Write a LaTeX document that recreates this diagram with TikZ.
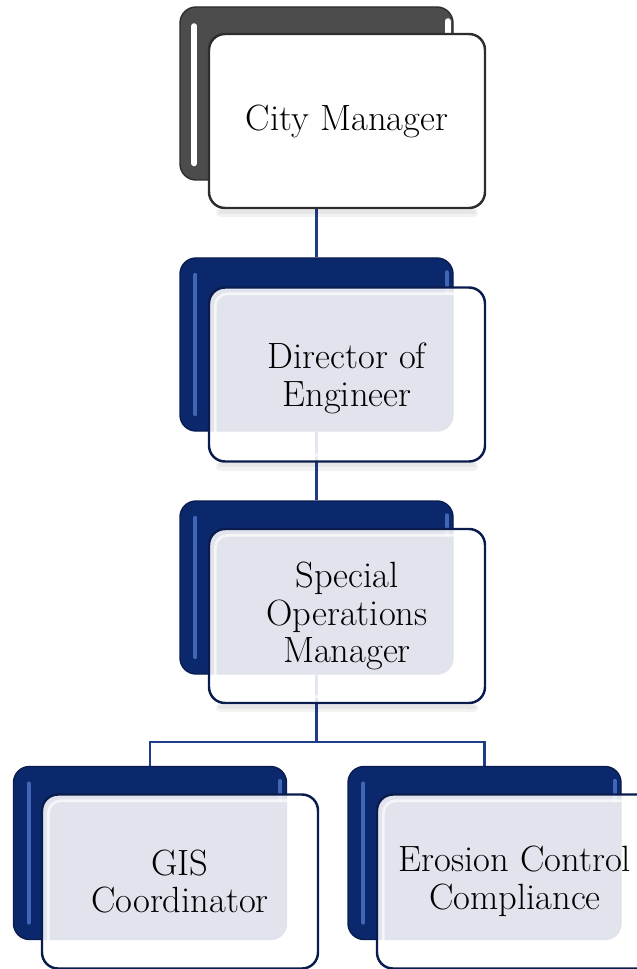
\documentclass[tikz,border=0pt]{standalone}
\usepackage{tikz}
\usetikzlibrary{backgrounds}
\definecolor{navyback}{RGB}{11,40,108}
\definecolor{navyedge}{RGB}{10,28,78}
\definecolor{navyline}{RGB}{30,60,138}
\definecolor{navyshine}{RGB}{78,118,200}
\definecolor{grayback}{RGB}{76,76,76}
\definecolor{grayedge}{RGB}{45,45,45}

\begin{document}
\begin{tikzpicture}[
  backbox/.style={draw=navyedge, line width=0.8pt, fill=navyback, rounded corners=0.32cm, minimum width=5.46cm, minimum height=3.46cm},
  frontbox/.style={draw=navyedge, line width=1.4pt, fill=white, fill opacity=0.88, text opacity=1, rounded corners=0.32cm, minimum width=5.52cm, minimum height=3.48cm, align=center, font=\fontsize{20.8}{21.5}\selectfont},
  shine/.style={draw=navyshine, line width=2.2pt, line cap=round, opacity=0.8},
  inner/.style={draw=white, line width=1.5pt, opacity=0.7, rounded corners=0.25cm},
  shade/.style={draw=black, line width=5pt, opacity=0.05, line cap=round},
  link/.style={draw=navyline, line width=1.4pt}
]
\useasboundingbox (0,0) rectangle (12.72,-19.38);

\node[backbox, fill=grayback, draw=grayedge] (cityback) at (6.33,-1.87) {};
\node[backbox] (directorback) at (6.33,-6.89) {};
\node[backbox] (somback) at (6.33,-11.75) {};
\node[backbox] (gisback) at (3.0,-17.06) {};
\node[backbox] (erosionback) at (9.69,-17.06) {};

\draw[shine, draw=white, line width=3.5pt, opacity=1] ([xshift=0.3cm,yshift=-0.4cm]cityback.north west) -- ([xshift=0.3cm,yshift=0.35cm]cityback.south west);
\draw[shine, draw=white, line width=3.5pt, opacity=1] ([xshift=-0.12cm,yshift=-0.3cm]cityback.north east) -- ([xshift=-0.12cm,yshift=-0.6cm]cityback.north east);
\draw[shine] ([xshift=0.32cm,yshift=-0.35cm]directorback.north west) -- ([xshift=0.32cm,yshift=0.35cm]directorback.south west);
\draw[shine] ([xshift=-0.14cm,yshift=-0.3cm]directorback.north east) -- ([xshift=-0.14cm,yshift=-0.7cm]directorback.north east);
\draw[shine] ([xshift=0.32cm,yshift=-0.35cm]somback.north west) -- ([xshift=0.32cm,yshift=0.35cm]somback.south west);
\draw[shine] ([xshift=-0.14cm,yshift=-0.3cm]somback.north east) -- ([xshift=-0.14cm,yshift=-0.7cm]somback.north east);
\draw[shine] ([xshift=0.32cm,yshift=-0.35cm]gisback.north west) -- ([xshift=0.32cm,yshift=0.35cm]gisback.south west);
\draw[shine] ([xshift=-0.14cm,yshift=-0.3cm]gisback.north east) -- ([xshift=-0.14cm,yshift=-0.7cm]gisback.north east);
\draw[shine] ([xshift=0.32cm,yshift=-0.35cm]erosionback.north west) -- ([xshift=0.32cm,yshift=0.35cm]erosionback.south west);
\draw[shine] ([xshift=-0.14cm,yshift=-0.3cm]erosionback.north east) -- ([xshift=-0.14cm,yshift=-0.7cm]erosionback.north east);

\node[frontbox, fill opacity=1, draw=grayedge] (city) at (6.94,-2.42) {City Manager};
\node[frontbox, text depth=-0.3cm] (director) at (6.94,-7.49) {Director of\\Engineer};
\node[frontbox] (som) at (6.94,-12.32) {Special\\Operations\\Manager};
\node[frontbox] (gis) at (3.6,-17.63) {GIS\\Coordinator};
\node[frontbox] (erosion) at (10.3,-17.63) {Erosion Control\\Compliance};

\draw[inner] ([xshift=0.15cm,yshift=-0.15cm]director.north west) rectangle ([xshift=-0.15cm,yshift=0.15cm]director.south east);
\draw[inner] ([xshift=0.15cm,yshift=-0.15cm]som.north west) rectangle ([xshift=-0.15cm,yshift=0.15cm]som.south east);
\draw[inner] ([xshift=0.15cm,yshift=-0.15cm]gis.north west) rectangle ([xshift=-0.15cm,yshift=0.15cm]gis.south east);
\draw[inner] ([xshift=0.15cm,yshift=-0.15cm]erosion.north west) rectangle ([xshift=-0.15cm,yshift=0.15cm]erosion.south east);

\coordinate (split) at (6.33,-14.84);

\begin{scope}[on background layer]
\draw[link] (cityback.south) -- (directorback.north);
\draw[link] (directorback.south) -- (somback.north);
\draw[link] (somback.south) -- (split);
\draw[link] (gisback.north) |- (split) -| (erosionback.north);
\draw[shade] ([xshift=0.25cm,yshift=-0.07cm]city.south west) -- ([xshift=-0.25cm,yshift=-0.07cm]city.south east);
\draw[shade, line width=2.5pt] ([xshift=0.25cm,yshift=-0.05cm]city.south west) -- ([xshift=-0.25cm,yshift=-0.05cm]city.south east);
\draw[shade] ([xshift=0.25cm,yshift=-0.07cm]director.south west) -- ([xshift=-0.25cm,yshift=-0.07cm]director.south east);
\draw[shade, line width=2.5pt] ([xshift=0.25cm,yshift=-0.05cm]director.south west) -- ([xshift=-0.25cm,yshift=-0.05cm]director.south east);
\draw[shade] ([xshift=0.25cm,yshift=-0.07cm]som.south west) -- ([xshift=-0.25cm,yshift=-0.07cm]som.south east);
\draw[shade, line width=2.5pt] ([xshift=0.25cm,yshift=-0.05cm]som.south west) -- ([xshift=-0.25cm,yshift=-0.05cm]som.south east);
\end{scope}
\end{tikzpicture}
\end{document}
